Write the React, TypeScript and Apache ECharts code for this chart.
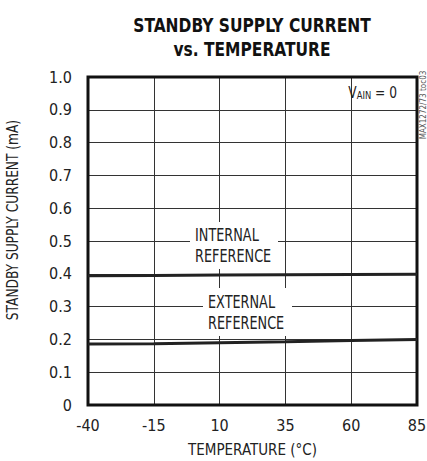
import React, { useEffect, useRef } from "react";
import * as echarts from "echarts";

const temperatures = [-40, -15, 10, 35, 60, 85];
const internalRef = [0.394, 0.395, 0.396, 0.397, 0.398, 0.399];
const externalRef = [0.186, 0.187, 0.19, 0.193, 0.197, 0.2];
const xTicks = [-40, -15, 10, 35, 60, 85];

const FONT = '"DejaVu Sans Condensed", "DejaVu Sans", sans-serif';

export default function App() {
  const ref = useRef<HTMLDivElement>(null);
  useEffect(() => {
    if (!ref.current) return;
    const chart = echarts.init(ref.current, undefined, { renderer: "svg" });
    const lineStyle = { color: "#222", width: 3 };
    const labelBox = (x: number, y: number, w: number, h: number) => ({
      type: "rect",
      shape: { x, y, width: w, height: h },
      style: { fill: "#fff" },
      z: 50,
    });
    const labelText = (x: number, y: number, text: string) => ({
      type: "text",
      x,
      y,
      z: 51,
      scaleX: 0.84,
      style: {
        text,
        fontFamily: FONT,
        fontSize: 17,
        fill: "#222",
        align: "left",
        verticalAlign: "middle",
        lineHeight: 21,
      },
    });
    chart.setOption({
      animation: false,
      backgroundColor: "#fff",
      grid: {
        left: 88,
        right: 10,
        top: 77,
        bottom: 56,
        show: true,
        borderColor: "#111",
        borderWidth: 3,
        backgroundColor: "transparent",
        containLabel: false,
        outerBoundsMode: "none",
        z: 60,
      },
      xAxis: {
        type: "value",
        min: -40,
        max: 85,
        interval: 25,
        name: "TEMPERATURE (°C)",
        nameLocation: "middle",
        nameGap: 37,
        nameTextStyle: { fontFamily: FONT, fontSize: 15, color: "#222", lineHeight: 16 },
        axisLine: { show: false },
        axisTick: { show: false },
        axisLabel: {
          fontFamily: FONT,
          fontSize: 16,
          color: "#222",
          margin: 12,
          formatter: (v: number) => (xTicks.includes(v) ? String(v) : ""),
        },
        splitLine: { show: true, lineStyle: { color: "#333", width: 1 } },
      },
      yAxis: {
        type: "value",
        min: 0,
        max: 1,
        interval: 0.1,
        axisLine: { show: false },
        axisTick: { show: false },
        axisLabel: {
          fontFamily: FONT,
          fontSize: 16,
          color: "#222",
          margin: 16,
          formatter: (v: number) => (v === 0 ? "0" : v.toFixed(1)),
        },
        splitLine: { show: true, lineStyle: { color: "#333", width: 1 } },
      },
      series: [
        {
          name: "INTERNAL REFERENCE",
          type: "line",
          data: temperatures.map((t, i) => [t, internalRef[i]]),
          showSymbol: false,
          lineStyle,
          z: 70,
        },
        {
          name: "EXTERNAL REFERENCE",
          type: "line",
          data: temperatures.map((t, i) => [t, externalRef[i]]),
          showSymbol: false,
          lineStyle,
          z: 70,
        },
      ],
      graphic: [
        {
          type: "text",
          x: 252,
          y: 37,
          scaleX: 0.86,
          style: {
            text: "STANDBY SUPPLY CURRENT\nvs. TEMPERATURE",
            fontFamily: FONT,
            fontWeight: "bold",
            fontSize: 20,
            lineHeight: 24,
            fill: "#111",
            align: "center",
            verticalAlign: "middle",
          },
        },
        {
          type: "text",
          x: 12,
          y: 220,
          rotation: Math.PI / 2,
          scaleX: 0.85,
          style: {
            text: "STANDBY SUPPLY CURRENT (mA)",
            fontFamily: FONT,
            fontSize: 16,
            fill: "#222",
            align: "center",
            verticalAlign: "middle",
          },
        },
        labelBox(190, 222, 88, 47),
        labelText(195, 246, "INTERNAL\nREFERENCE"),
        labelBox(203, 288, 89, 48),
        labelText(208, 313, "EXTERNAL\nREFERENCE"),
        {
          type: "text",
          x: 397,
          y: 92,
          z: 51,
          scaleX: 0.85,
          style: {
            rich: {
              b: { fontFamily: FONT, fontSize: 16, fill: "#222", verticalAlign: "bottom" },
              s: { fontFamily: FONT, fontSize: 11, fill: "#222", padding: [6, 0, 0, 0] },
            },
            text: "{b|V}{s|AIN}{b| = 0}",
            align: "right",
            verticalAlign: "middle",
          },
        },
        {
          type: "text",
          x: 423,
          y: 105,
          rotation: Math.PI / 2,
          style: {
            text: "MAX1272/73 toc03",
            fontFamily: FONT,
            fontSize: 8,
            fill: "#555",
            align: "center",
            verticalAlign: "middle",
          },
        },
      ],
    });
    return () => chart.dispose();
  }, []);
  return (
    <div
      ref={ref}
      style={{ position: "absolute", left: 0, top: 0, width: 427, height: 461, background: "#fff" }}
    />
  );
}
